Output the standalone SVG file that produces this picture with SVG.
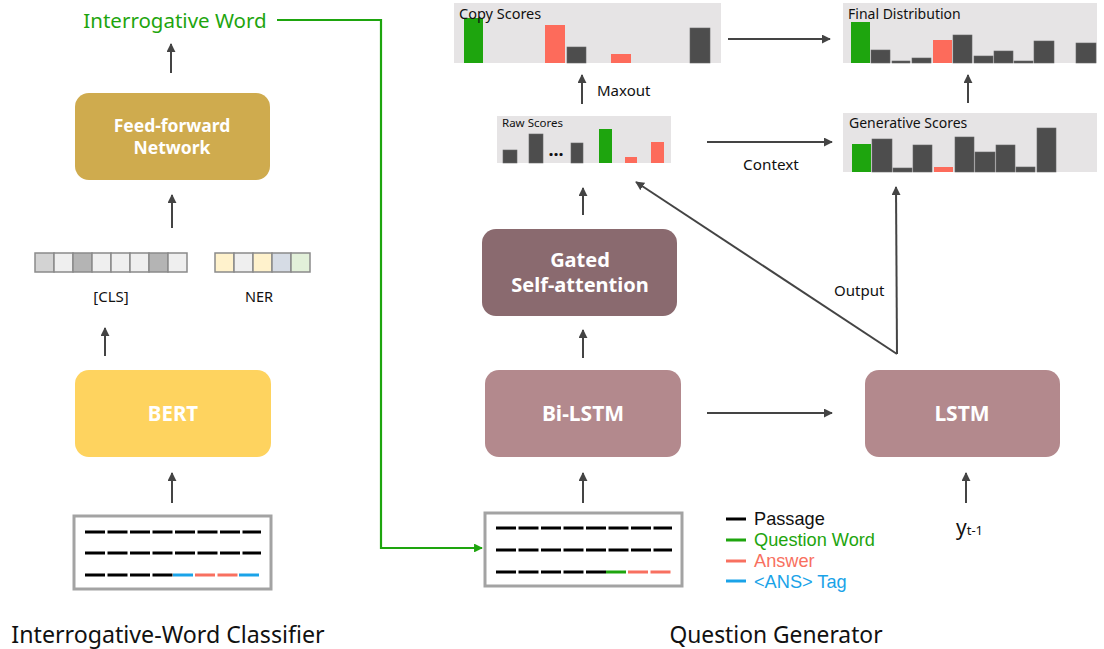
<svg xmlns="http://www.w3.org/2000/svg" width="1104" height="649" viewBox="0 0 1104 649">
<style>
text{font-family:"Noto Sans","Open Sans",sans-serif;fill:#111}
.wb{fill:#fff;font-weight:bold;text-anchor:middle}
.lg{font-family:"Liberation Sans",Arial,sans-serif;font-size:18.2px}
.arr{stroke:#444;stroke-width:2;fill:none;marker-end:url(#ah)}
.panel{fill:#e6e4e5}
.dk{fill:#4d4d4d;stroke:#666;stroke-width:0.6}
.gr{fill:#1ea50e}
.rd{fill:#fd6b5b}
.cell{stroke:#8a8a8a;stroke-width:1.5}
.bx{fill:#fff;stroke:#a3a3a3;stroke-width:3}
.d{stroke-width:3;stroke-dasharray:20 2.5}
</style>
<defs>
<marker id="ah" viewBox="0 0 10 10" refX="9" refY="5" markerWidth="4.5" markerHeight="4.5" orient="auto"><path d="M0,0 L10,5 L0,10 z" fill="#444"/></marker>
<marker id="ahg" viewBox="0 0 10 10" refX="9" refY="5" markerWidth="4" markerHeight="4" orient="auto"><path d="M0,0 L10,5 L0,10 z" fill="#1ea50e"/></marker>
</defs>

<g id="connectors">
<line class="arr" x1="171" y1="73" x2="171" y2="44"/>
<line class="arr" x1="172" y1="228" x2="172" y2="195"/>
<line class="arr" x1="105" y1="356" x2="105" y2="328"/>
<line class="arr" x1="172" y1="503" x2="172" y2="473"/>
<polyline points="277,20 381,20 381,548 482,548" fill="none" stroke="#1ea50e" stroke-width="2.2" marker-end="url(#ahg)"/>
<line class="arr" x1="583" y1="503" x2="583" y2="473"/>
<line class="arr" x1="966" y1="503" x2="966" y2="473"/>
<line class="arr" x1="583" y1="358" x2="583" y2="330"/>
<line class="arr" x1="583" y1="215" x2="583" y2="188"/>
<line class="arr" x1="582" y1="104" x2="582" y2="75"/>
<line class="arr" x1="707" y1="413" x2="832" y2="413"/>
<line class="arr" x1="707" y1="142" x2="832" y2="142"/>
<line class="arr" x1="728" y1="39" x2="830" y2="39"/>
<line class="arr" x1="968" y1="103" x2="968" y2="75"/>
<line class="arr" x1="897" y1="354" x2="896" y2="187"/>
<line class="arr" x1="897" y1="354" x2="636" y2="182"/>
</g>

<g id="interrogative-word"><text x="175" y="28" font-size="20.5" style="fill:#1ea50e" text-anchor="middle">Interrogative Word</text></g>

<g id="ffn">
<rect x="75" y="93" width="195" height="87" rx="14" fill="#cfab4e"/>
<text class="wb" x="172" y="132" font-size="17.5">Feed-forward</text>
<text class="wb" x="172" y="154" font-size="17.5">Network</text>
</g>

<g id="cls-vector">
<rect class="cell" x="35" y="253" width="19" height="19" fill="#d3d3d3"/>
<rect class="cell" x="54" y="253" width="19" height="19" fill="#efefef"/>
<rect class="cell" x="73" y="253" width="19" height="19" fill="#b4b4b4"/>
<rect class="cell" x="92" y="253" width="19" height="19" fill="#efefef"/>
<rect class="cell" x="111" y="253" width="19" height="19" fill="#efefef"/>
<rect class="cell" x="130" y="253" width="19" height="19" fill="#efefef"/>
<rect class="cell" x="149" y="253" width="19" height="19" fill="#b4b4b4"/>
<rect class="cell" x="168" y="253" width="19" height="19" fill="#efefef"/>
<text x="111" y="302" font-size="15" text-anchor="middle">[CLS]</text>
</g>
<g id="ner-vector">
<rect class="cell" x="215" y="253" width="19" height="19" fill="#fff2cc"/>
<rect class="cell" x="234" y="253" width="19" height="19" fill="#efefef"/>
<rect class="cell" x="253" y="253" width="19" height="19" fill="#fff2cc"/>
<rect class="cell" x="272" y="253" width="19" height="19" fill="#d6dce5"/>
<rect class="cell" x="291" y="253" width="19" height="19" fill="#e2f0d9"/>
<text x="259" y="302" font-size="14.5" text-anchor="middle">NER</text>
</g>

<g id="bert">
<rect x="75" y="370" width="196" height="87" rx="14" fill="#fed35f"/>
<text class="wb" x="173" y="421" font-size="20.5">BERT</text>
</g>

<g id="passage-left">
<rect class="bx" x="74" y="516" width="197" height="73"/>
<line class="d" x1="85" y1="532" x2="261" y2="532" stroke="#000"/>
<line class="d" x1="85" y1="553" x2="261" y2="553" stroke="#000"/>
<line class="d" x1="85" y1="575" x2="173" y2="575" stroke="#000"/>
<line x1="173" y1="575" x2="195" y2="575" stroke="#1aa3e8" stroke-width="3" stroke-dasharray="20 2.5"/>
<line x1="195" y1="575" x2="239" y2="575" stroke="#f87060" stroke-width="3" stroke-dasharray="20 2.5"/>
<line x1="239" y1="575" x2="261" y2="575" stroke="#1aa3e8" stroke-width="3" stroke-dasharray="20 2.5"/>
</g>

<g id="title-left"><text x="168" y="643" font-size="23.2" text-anchor="middle">Interrogative-Word Classifier</text></g>

<g id="copy-scores">
<rect class="panel" x="454" y="3" width="267" height="60"/>
<rect class="gr" x="464" y="18" width="19" height="45"/>
<rect class="rd" x="545" y="25" width="20" height="38"/>
<rect class="dk" x="567" y="47" width="19" height="16"/>
<rect class="rd" x="611" y="54" width="20" height="9"/>
<rect class="dk" x="690" y="28" width="20" height="35"/>
<text x="459" y="19" font-size="14.5">Copy Scores</text>
</g>
<g id="maxout-label"><text x="597" y="96" font-size="15">Maxout</text></g>

<g id="raw-scores">
<rect class="panel" x="497" y="116" width="174" height="47"/>
<rect class="dk" x="503" y="150" width="14" height="13"/>
<rect class="dk" x="529" y="134" width="14" height="29"/>
<text x="556" y="156" font-size="18" text-anchor="middle" font-weight="bold">...</text>
<rect class="dk" x="571" y="143" width="12" height="20"/>
<rect class="gr" x="599" y="129" width="13" height="34"/>
<rect class="rd" x="625" y="157" width="12" height="6"/>
<rect class="rd" x="651" y="142" width="13" height="21"/>
<text x="502" y="127" font-size="11.5">Raw Scores</text>
</g>
<g id="context-label"><text x="743" y="170" font-size="15.3">Context</text></g>

<g id="final-distribution">
<rect class="panel" x="843" y="3" width="254" height="60"/>
<rect class="gr" x="851" y="22" width="19" height="41"/>
<rect class="dk" x="871" y="50" width="19" height="13"/>
<rect class="dk" x="892" y="61" width="18" height="2"/>
<rect class="dk" x="912" y="58" width="19" height="5"/>
<rect class="rd" x="933" y="40" width="19" height="23"/>
<rect class="dk" x="953" y="35" width="19" height="28"/>
<rect class="dk" x="974" y="56" width="19" height="7"/>
<rect class="dk" x="994" y="51" width="19" height="12"/>
<rect class="dk" x="1014" y="61" width="19" height="2"/>
<rect class="dk" x="1034" y="41" width="20" height="22"/>
<rect class="dk" x="1076" y="43" width="20" height="20"/>
<text x="848" y="19" font-size="14">Final Distribution</text>
</g>

<g id="generative-scores">
<rect class="panel" x="843" y="113" width="254" height="59"/>
<rect class="gr" x="852" y="144" width="19" height="28"/>
<rect class="dk" x="872" y="139" width="20" height="33"/>
<rect class="dk" x="893" y="168" width="19" height="4"/>
<rect class="dk" x="913" y="145" width="19" height="27"/>
<rect class="rd" x="934" y="167" width="19" height="5"/>
<rect class="dk" x="955" y="137" width="19" height="35"/>
<rect class="dk" x="975" y="152" width="20" height="20"/>
<rect class="dk" x="996" y="145" width="19" height="27"/>
<rect class="dk" x="1016" y="167" width="19" height="5"/>
<rect class="dk" x="1037" y="128" width="19" height="44"/>
<text x="849" y="128" font-size="14">Generative Scores</text>
</g>

<g id="gated-self-attention">
<rect x="482" y="229" width="195" height="87" rx="14" fill="#8a6a6f"/>
<text class="wb" x="580" y="267" font-size="20">Gated</text>
<text class="wb" x="580" y="292" font-size="20">Self-attention</text>
</g>
<g id="output-label"><text x="834" y="296" font-size="15">Output</text></g>

<g id="bi-lstm">
<rect x="485" y="370" width="196" height="87" rx="14" fill="#b3898d"/>
<text class="wb" x="583" y="421" font-size="21">Bi-LSTM</text>
</g>
<g id="lstm">
<rect x="865" y="370" width="195" height="87" rx="14" fill="#b3898d"/>
<text class="wb" x="962" y="421" font-size="21">LSTM</text>
</g>

<g id="passage-right">
<rect class="bx" x="485" y="513" width="197" height="73"/>
<line class="d" x1="496" y1="528" x2="672" y2="528" stroke="#000"/>
<line class="d" x1="496" y1="550" x2="672" y2="550" stroke="#000"/>
<line class="d" x1="496" y1="572" x2="606" y2="572" stroke="#000"/>
<line x1="606" y1="572" x2="628" y2="572" stroke="#1ea50e" stroke-width="3" stroke-dasharray="20 2.5"/>
<line x1="628" y1="572" x2="672" y2="572" stroke="#f87060" stroke-width="3" stroke-dasharray="20 2.5"/>
</g>

<g id="legend">
<line x1="726" y1="519" x2="746" y2="519" stroke="#000" stroke-width="3"/>
<text class="lg" x="754" y="525">Passage</text>
<line x1="726" y1="540" x2="746" y2="540" stroke="#1ea50e" stroke-width="3"/>
<text class="lg" x="754" y="546" style="fill:#1ea50e">Question Word</text>
<line x1="726" y1="561" x2="746" y2="561" stroke="#f87060" stroke-width="3"/>
<text class="lg" x="754" y="567" style="fill:#f87060">Answer</text>
<line x1="726" y1="581" x2="746" y2="581" stroke="#1aa3e8" stroke-width="3"/>
<text class="lg" x="754" y="588" style="fill:#1aa3e8">&lt;ANS&gt; Tag</text>
</g>

<g id="y-prev"><text x="956" y="535" font-size="21">y<tspan font-size="13">t-1</tspan></text></g>

<g id="title-right"><text x="776" y="643" font-size="22.8" text-anchor="middle">Question Generator</text></g>
</svg>
